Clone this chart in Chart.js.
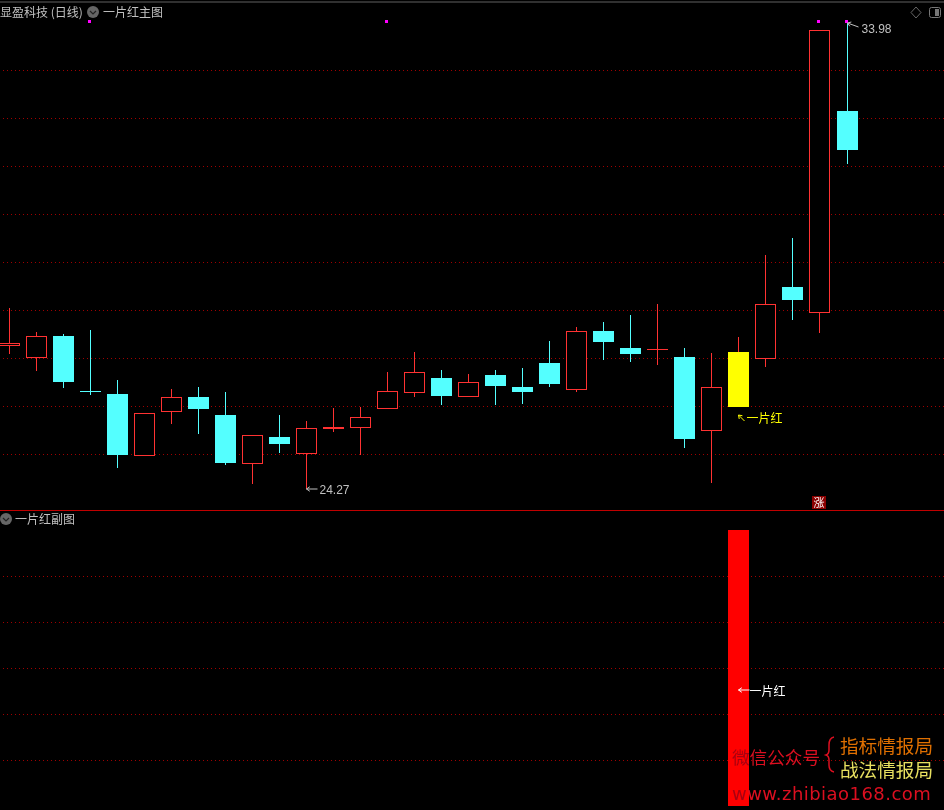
<!DOCTYPE html>
<html>
<head>
<meta charset="UTF-8">
<title>一片红</title>
<script src="https://cdn.jsdelivr.net/npm/chart.js"></script>
<style>
    html, body { margin: 0; padding: 0; background: #000; }
    body { position: relative; width: 944px; height: 810px; overflow: hidden; font-family: "Noto Sans CJK SC", sans-serif; }
    canvas { position: absolute; left: 0; }
    #mainChart { top: 0; }
    #subChart { top: 511px; }
    #divider { position: absolute; left: 0; top: 510px; width: 944px; height: 1px; background: #c00000; }
    #topStrip { position: absolute; left: 0; top: 1px; width: 944px; height: 2px; background: #303030; }
    .label { position: absolute; white-space: nowrap; line-height: 16px; font-size: 12px; color: #c0c0c0; }
    .mark { position: absolute; white-space: nowrap; line-height: 24px; }
    #badge { position: absolute; left: 812px; top: 496px; width: 14px; height: 13px; line-height: 13px; background: #8b0000; color: #fff; font-size: 11px; text-align: center; }
    svg { position: absolute; left: 0; top: 0; }
</style>
</head>
<body>
<canvas id="mainChart" width="944" height="510"></canvas>
<canvas id="subChart" width="944" height="299"></canvas>
<div id="topStrip"></div>
<div id="divider"></div>
<div class="label" style="left:0;top:4px">显盈科技 (日线)</div>
<div class="label" style="left:103px;top:4px">一片红主图</div>
<div class="label" style="left:15px;top:511px">一片红副图</div>
<div id="badge">涨</div>
<div class="mark" style="left:732px;top:745px;font-size:17.6px;color:#dc0f20"><span style="color:#a80010">微</span>信公众号</div>
<div class="mark" style="left:840px;top:733px;font-size:18.6px;color:#e07000">指标情报局</div>
<div class="mark" style="left:840px;top:757px;font-size:18.6px;color:#e8e060">战法情报局</div>
<div class="mark" style="left:732px;top:782px;font-size:18px;letter-spacing:0.45px;font-family:'DejaVu Sans';color:#dc0f20"><span style="color:#a80010">w</span>ww.zhibiao168.com</div>
<svg width="944" height="810">
    <circle cx="93" cy="12" r="6" fill="#666"/>
    <polyline points="90,11 93,14 96,11" fill="none" stroke="#222" stroke-width="1.2"/>
    <circle cx="6" cy="519" r="6" fill="#666"/>
    <polyline points="3,518 6,521 9,518" fill="none" stroke="#222" stroke-width="1.2"/>
    <polygon points="916,7 921,12.5 916,18 911,12.5" fill="none" stroke="#666"/>
    <rect x="929.5" y="7.5" width="11" height="10" rx="2" fill="none" stroke="#777"/>
    <rect x="935" y="9" width="4" height="7" fill="#777"/>
    <path d="M834,737 Q829,738 829,745 L829,750 Q829,754 826,755 Q829,756 829,760 L829,765 Q829,771 834,772" fill="none" stroke="#dc0f20" stroke-width="1.5"/>
</svg>

<script>
// daily candles
const days    = [0,1,2,3,4,5,6,7,8,9,10,11,12,13,14,15,16,17,18,19,20,21,22,23,24,25,26,27,28,29,30,31];
const opens   = [27.25,27.00,27.46,26.31,26.25,24.96,25.88,26.19,25.81,24.79,25.35,25.00,25.52,25.54,25.94,26.27,26.58,26.19,26.65,26.40,26.90,26.33,27.56,27.21,27.17,27.02,25.48,25.98,26.98,28.48,27.94,32.15];
const highs   = [28.04,27.54,27.50,27.58,26.54,25.85,26.35,26.40,26.29,25.40,25.81,25.69,25.96,25.98,26.71,27.13,26.75,26.67,26.75,26.79,27.35,27.65,27.75,27.90,28.13,27.21,27.10,27.44,29.15,29.50,33.83,33.98];
const lows    = [27.08,26.73,26.38,26.23,24.71,24.96,25.63,25.42,24.77,24.38,25.02,24.27,25.46,24.98,25.94,26.19,26.02,26.19,26.02,26.04,26.40,26.29,26.96,26.92,26.85,25.13,24.40,25.98,26.81,27.79,27.52,31.04];
const closes  = [27.31,27.46,26.50,26.29,24.98,25.85,26.19,25.94,24.81,25.40,25.21,25.54,25.56,25.77,26.31,26.71,26.21,26.50,26.42,26.29,26.46,27.56,27.33,27.08,27.19,25.31,26.40,27.13,28.13,28.21,33.83,31.33];
const limitUpDays = [27];
const markerDays  = [3,14,30,31];
const markerPrice = 34.02;
const mainGridPrices = [25,26,27,28,29,30,31,32,33];

// lower pane: the signal only fires on one day
const signalValues = [null,null,null,null,null,null,null,null,null,null,null,null,null,null,null,null,null,null,null,null,null,null,null,null,null,null,null,1,null,null,null,null];
const subGridValues = [1/6,2/6,3/6,4/6,5/6];

const RED = '#ff3232', CYAN = '#54ffff', YELLOW = '#ffff00';
const GRID = {color: '#a00000', lineWidth: 1, drawTicks: false};
const GRID_BORDER = {display: false, dash: [1, 3], dashOffset: 1};

const isUp = (i) => closes[i] >= opens[i];
// hollow up candles, but thin ones have no room for a hole
const bodyFill = (i) => {
    if (limitUpDays.includes(i)) return YELLOW;
    if (!isUp(i)) return CYAN;
    return Math.abs(closes[i] - opens[i]) < 0.05 ? RED : '#000';
};

// pixel snap, the original is drawn without antialiasing
function snapX(scale) {
    if (scale.snapped) return;
    scale.snapped = true;
    const orig = scale.getPixelForValue.bind(scale);
    scale.getPixelForValue = (v) => Math.floor(orig(v)) + 0.5;
}
function snapY(scale) {
    if (scale.snapped) return;
    scale.snapped = true;
    const orig = scale.getPixelForValue.bind(scale);
    scale.getPixelForValue = (v) => Math.round(orig(v));
}

// grid dots start a little way in from the left edge
const gridInset = {
    id: 'gridInset',
    beforeDatasetsDraw(chart) {
        chart.ctx.clearRect(0, 0, 3, chart.height);
    }
};

function notesPlugin(notes, yId) {
    return {
        id: 'notes',
        afterDatasetsDraw(chart) {
            const ctx = chart.ctx;
            ctx.save();
            notes.forEach((n) => {
                const hx = chart.scales.x.getPixelForValue(n.day) + n.ox;
                const hy = chart.scales[yId].getPixelForValue(n.value) + n.oy;
                ctx.strokeStyle = n.color;
                ctx.lineWidth = 1;
                ctx.beginPath();
                ctx.moveTo(hx, hy);
                ctx.lineTo(hx + n.tail[0], hy + n.tail[1]);
                const ang = Math.atan2(n.tail[1], n.tail[0]);
                [-0.6, 0.6].forEach((a) => {
                    ctx.moveTo(hx, hy);
                    ctx.lineTo(hx + 4 * Math.cos(ang + a), hy + 4 * Math.sin(ang + a));
                });
                ctx.stroke();
                ctx.fillStyle = n.color;
                ctx.font = n.font;
                ctx.textBaseline = 'middle';
                ctx.fillText(n.text, hx + n.tx, hy + n.ty);
            });
            ctx.restore();
        }
    };
}

// magenta tick, 3px square placed one pixel left of the candle centre
const markerImg = document.createElement('canvas');
markerImg.width = 5;
markerImg.height = 4;
const mctx = markerImg.getContext('2d');
mctx.fillStyle = '#ff00ff';
mctx.fillRect(0, 1, 3, 3);

const xScale = {
    type: 'linear',
    display: false,
    offset: false,
    min: -9.08 / 27.03,
    max: (944 - 9.08) / 27.03,
    afterUpdate: snapX
};

const mainNotes = [
    {day: 11, value: lows[11], ox: 0, oy: 0, tail: [11, 0], tx: 13, ty: 2, text: '24.27', color: '#c0c0c0', font: '12px "Liberation Sans"'},
    {day: 31, value: highs[31], ox: 0, oy: 0, tail: [11, 4], tx: 14, ty: 7, text: '33.98', color: '#c0c0c0', font: '12px "Liberation Sans"'},
    {day: 27, value: opens[27], ox: 0, oy: 8, tail: [6, 6], tx: 8, ty: 3, text: '一片红', color: YELLOW, font: '12px "Noto Sans CJK SC"'}
];

new Chart(document.getElementById('mainChart'), {
    type: 'bar',
    data: {
        datasets: [
            {
                label: 'marker',
                type: 'scatter',
                order: 0,
                data: markerDays.map((d) => ({x: d, y: markerPrice})),
                pointStyle: markerImg,
                pointRadius: 3
            },
            {
                label: 'body',
                order: 1,
                maxBarThickness: 21,
                data: days.map((d, i) => ({x: d, y: [opens[i], closes[i]]})),
                backgroundColor: days.map((d, i) => bodyFill(i)),
                borderColor: days.map((d, i) => limitUpDays.includes(i) ? YELLOW : (isUp(i) ? RED : CYAN)),
                borderWidth: 1,
                borderSkipped: false
            },
            {
                label: 'wick',
                order: 2,
                maxBarThickness: 1,
                data: days.map((d, i) => ({x: d, y: [lows[i], highs[i]]})),
                backgroundColor: days.map((d, i) => isUp(i) ? RED : CYAN),
                borderWidth: 0
            }
        ]
    },
    options: {
        responsive: false,
        animation: false,
        events: [],
        layout: {autoPadding: false, padding: 0},
        datasets: {bar: {grouped: false, barPercentage: 1, categoryPercentage: 1, inflateAmount: 0}},
        plugins: {legend: {display: false}, tooltip: {enabled: false}},
        scales: {
            x: xScale,
            y: {
                min: 25 - 56 / 48,
                max: 25 + 454 / 48,
                ticks: {display: false},
                grid: GRID,
                border: GRID_BORDER,
                afterBuildTicks: (axis) => { axis.ticks = mainGridPrices.map((v) => ({value: v})); },
                afterUpdate: snapY
            }
        }
    },
    plugins: [gridInset, notesPlugin(mainNotes, 'y')]
});

const subNotes = [
    {day: 27, value: 0.42, ox: 0, oy: 0, tail: [11, 0], tx: 11, ty: 1, text: '一片红', color: '#ffffff', font: '12px "Noto Sans CJK SC"'}
];

new Chart(document.getElementById('subChart'), {
    type: 'bar',
    data: {
        datasets: [{
            label: 'signal',
            maxBarThickness: 21,
            data: days.map((d, i) => ({x: d, y: signalValues[i]})),
            backgroundColor: '#ff0000',
            borderWidth: 0
        }]
    },
    options: {
        responsive: false,
        animation: false,
        events: [],
        layout: {autoPadding: false, padding: 0},
        datasets: {bar: {grouped: false, barPercentage: 1, categoryPercentage: 1, inflateAmount: 0}},
        plugins: {legend: {display: false}, tooltip: {enabled: false}},
        scales: {
            x: {...xScale},
            y: {
                min: -4 / 276,
                max: 1 + 19 / 276,
                ticks: {display: false},
                grid: GRID,
                border: GRID_BORDER,
                afterBuildTicks: (axis) => { axis.ticks = subGridValues.map((v) => ({value: v})); },
                afterUpdate: snapY
            }
        }
    },
    plugins: [gridInset, notesPlugin(subNotes, 'y')]
});
</script>
</body>
</html>
